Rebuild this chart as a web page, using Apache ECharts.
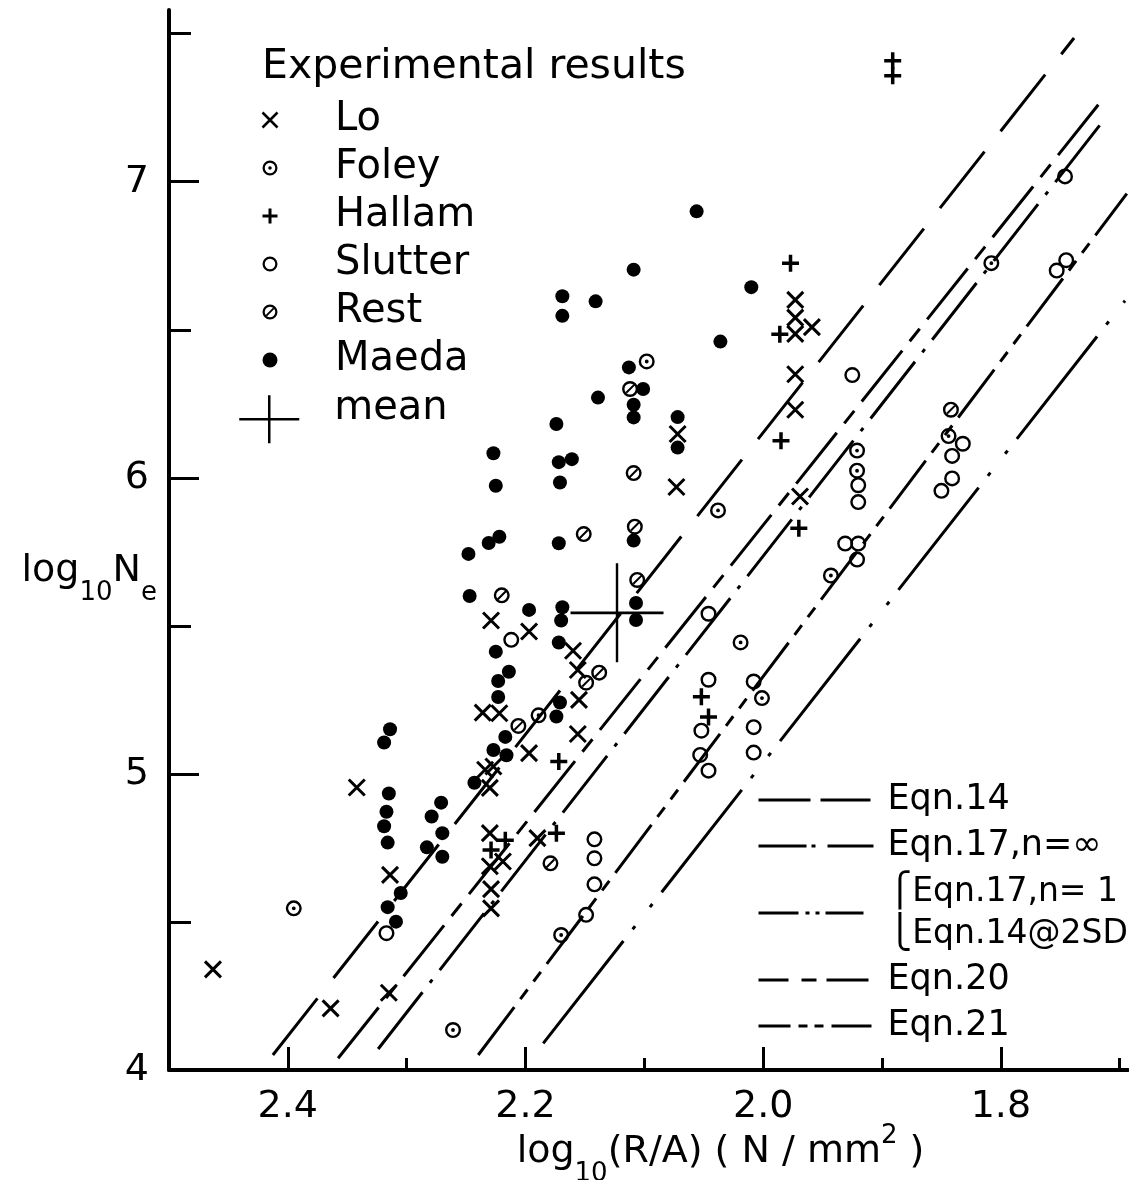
<!DOCTYPE html>
<html><head><meta charset="utf-8">
<script src="https://cdn.jsdelivr.net/npm/echarts@6/dist/echarts.min.js"></script>
<style>html,body{margin:0;padding:0;background:#fff}#c{width:1129px;height:1180px}</style>
</head><body><div id="c"></div>
<script>
// ---------- axis ticks ----------
const xTickLabels = [1.8, 2.0, 2.2, 2.4];
const xMinorTicks = [1.7, 1.9, 2.1, 2.3, 2.5];
const yTickLabels = [4, 5, 6, 7];
const yMinorTicks = [4.5, 5.5, 6.5, 7.5];

// ---------- experimental results [log10(R/A), log10 Ne] ----------
const lo = [[2.463,4.340],[2.364,4.208],[2.342,4.954],[2.314,4.659],[2.315,4.261],[2.236,5.207],[2.222,5.205],[2.229,5.518],[2.197,5.481],[2.234,5.014],[2.227,5.025],[2.230,4.953],[2.230,4.800],[2.219,4.704],[2.230,4.688],[2.229,4.611],[2.229,4.546],[2.197,5.070],[2.190,4.783],[2.160,5.416],[2.156,5.351],[2.155,5.250],[2.156,5.135],[2.072,6.148],[2.073,5.969],[1.973,6.601],[1.973,6.541],[1.959,6.509],[1.973,6.486],[1.973,6.350],[1.973,6.230],[1.969,5.937]];
const foley = [[2.395,4.546],[2.261,4.135],[2.189,5.198],[2.170,4.456],[2.098,6.393],[2.038,5.890],[2.019,5.444],[2.001,5.256],[1.943,5.670],[1.921,6.092],[1.921,6.024],[1.808,6.725],[1.844,6.141]];
const hallam = [[1.891,7.409],[1.891,7.358],[1.977,6.725],[1.986,6.485],[1.985,6.125],[1.970,5.830],[2.172,5.042],[2.217,4.776],[2.229,4.743],[2.174,4.800],[2.052,5.261],[2.046,5.192]];
const slutter = [[2.317,4.462],[2.212,5.453],[2.142,4.779],[2.142,4.715],[2.142,4.627],[2.149,4.524],[2.046,5.541],[2.046,5.318],[2.052,5.146],[2.053,5.064],[2.046,5.011],[2.008,5.312],[2.008,5.158],[2.008,5.072],[1.925,6.347],[1.920,5.975],[1.920,5.918],[1.931,5.778],[1.920,5.778],[1.921,5.724],[1.832,6.115],[1.841,6.074],[1.841,5.998],[1.850,5.956],[1.746,7.018],[1.753,6.700],[1.745,6.735]];
const rest = [[2.220,5.603],[2.206,5.162],[2.151,5.810],[2.112,6.300],[2.109,6.016],[2.108,5.835],[2.106,5.655],[2.149,5.308],[2.138,5.342],[2.179,4.698],[1.842,6.230]];
const maeda = [[2.227,6.083],[2.225,5.973],[2.222,5.801],[2.231,5.780],[2.248,5.743],[2.247,5.601],[2.056,6.900],[2.109,6.703],[2.169,6.613],[2.169,6.547],[2.141,6.596],[2.010,6.644],[2.036,6.460],[2.113,6.373],[2.101,6.300],[2.109,6.247],[2.109,6.204],[2.139,6.271],[2.174,6.182],[2.172,6.053],[2.161,6.063],[2.171,5.984],[2.072,6.205],[2.072,6.102],[2.172,5.779],[2.109,5.788],[2.107,5.577],[2.197,5.554],[2.169,5.563],[2.170,5.518],[2.172,5.444],[2.107,5.520],[2.225,5.413],[2.214,5.345],[2.223,5.314],[2.223,5.260],[2.171,5.241],[2.174,5.194],[2.217,5.125],[2.227,5.081],[2.216,5.063],[2.243,4.970],[2.314,5.151],[2.319,5.106],[2.315,4.934],[2.317,4.872],[2.319,4.823],[2.316,4.768],[2.305,4.598],[2.316,4.550],[2.309,4.501],[2.271,4.903],[2.279,4.856],[2.270,4.800],[2.283,4.752],[2.270,4.720]];
const meanPoint = [[2.123,5.544]];

// ---------- equation lines (end points) ----------
const eqn14 = [[2.4126,4.0507],[1.7384,7.4855]];
const eqn17inf = [[2.324,4.071],[1.7109,7.221]];
const eqn17n1 = [[2.1851,4.090],[1.6955,6.598]];
const eqn20 = [[2.3577,4.0395],[1.718,7.26]];
const eqn21 = [[2.2398,4.0507],[1.694,6.960]];

const lineLabels = {
  'Eqn.14': 'Eqn.14',
  'Eqn.17inf': 'Eqn.17,n=\u221E',
  'Eqn.17n1': '\u23A7Eqn.17,n= 1\n\u23A9Eqn.14@2SD',
  'Eqn.20': 'Eqn.20',
  'Eqn.21': 'Eqn.21'
};

const F = "'DejaVu Sans', 'Liberation Sans', sans-serif";
const K = '#000';

const P_X = 'path://M0,0L10,10M10,0L0,10';
const P_PLUS = 'path://M5,0L5,10M0,5L10,5';
const RING = 'M10,0A10,10 0 1,1 10,20A10,10 0 1,1 10,0ZM10,3A7,7 0 1,0 10,17A7,7 0 1,0 10,3Z';
const P_RING = 'path://' + RING;
const P_FOLEY = 'path://' + RING + 'M10,7.6A2.4,2.4 0 1,1 10,12.4A2.4,2.4 0 1,1 10,7.6Z';
const P_REST = 'path://' + RING + 'M4.3,13.9L13.9,4.3L15.7,6.1L6.1,15.7Z';
const P_MEAN = 'path://M0,50L100,50M50,0L50,100';
const P_MEAN_LEG = 'path://M30,0L30,0M0,46L60,46M30,22L30,70';

const strokeStyle = w => ({color: K, borderColor: K, borderWidth: w, opacity: 1});
const fillStyle = {color: K, borderWidth: 0, opacity: 1};

function scatter(name, data, symbol, size, style) {
  return {type: 'scatter', name, data, symbol, symbolSize: size, itemStyle: style,
          emphasis: {disabled: true}, silent: true, z: 3};
}
function eqLine(name, data, dash) {
  return {type: 'line', name, data, symbol: 'none', showSymbol: false, clip: false,
          lineStyle: {color: K, width: 3, type: dash, opacity: 1}, itemStyle: {color: K},
          emphasis: {disabled: true}, silent: true, z: 2};
}

const chart = echarts.init(document.getElementById('c'), null, {renderer: 'canvas'});
chart.setOption({
  animation: false,
  backgroundColor: '#fff',
  title: {
    text: 'Experimental results', left: 262, top: 47, padding: 0,
    textStyle: {fontFamily: F, fontSize: 41, fontWeight: 'normal', color: K}
  },
  grid: {left: 169, right: 1, top: 10, bottom: 110, containLabel: false, outerBoundsMode: 'none'},
  xAxis: [{
    type: 'value', min: 1.693, max: 2.5, inverse: true, position: 'bottom',
    axisLine: {show: true, onZero: false, lineStyle: {color: K, width: 4}},
    axisTick: {show: true, inside: true, length: 23, lineStyle: {color: K, width: 3}, customValues: xTickLabels},
    axisLabel: {show: true, margin: 18, fontFamily: F, fontSize: 38, color: K, customValues: xTickLabels,
      formatter: v => Number(v).toFixed(1)},
    splitLine: {show: false},
    name: '{m|log}{s|10}{m|(R/A) ( N / mm}{u|2}{m| )}',
    nameLocation: 'middle', nameGap: 53, nameMoveOverlap: false,
    nameTextStyle: {padding: [0, 0, 0, 144], rich: {
      m: {fontFamily: F, fontSize: 38, color: K, verticalAlign: 'top', padding: [10, 0, 0, 0]},
      s: {fontFamily: F, fontSize: 26, color: K, verticalAlign: 'top', padding: [38, 0, 0, 0]},
      u: {fontFamily: F, fontSize: 26, color: K, verticalAlign: 'top', padding: [0, 0, 0, 0]}
    }}
  }, {
    type: 'value', min: 1.693, max: 2.5, inverse: true, position: 'bottom',
    axisLine: {show: false},
    axisTick: {show: true, inside: true, length: 12, lineStyle: {color: K, width: 3}, customValues: xMinorTicks},
    axisLabel: {show: false}, splitLine: {show: false}
  }],
  yAxis: [{
    type: 'value', min: 4, max: 7.58, position: 'left',
    axisLine: {show: true, onZero: false, lineStyle: {color: K, width: 4}},
    axisTick: {show: true, inside: true, length: 30, lineStyle: {color: K, width: 3}, customValues: yTickLabels},
    axisLabel: {show: true, margin: 20, fontFamily: F, fontSize: 38, color: K, customValues: yTickLabels,
      formatter: v => String(Math.round(v))},
    splitLine: {show: false},
    name: '{m|log}{s|10}{m|N}{s|e}',
    nameLocation: 'middle', nameRotate: 0, nameGap: 12, nameMoveOverlap: false,
    nameTextStyle: {padding: [78, 0, 0, 0], rich: {
      m: {fontFamily: F, fontSize: 38, color: K, verticalAlign: 'top'},
      s: {fontFamily: F, fontSize: 26, color: K, verticalAlign: 'top', padding: [28, 0, 0, 0]}
    }}
  }, {
    type: 'value', min: 4, max: 7.58, position: 'left',
    axisLine: {show: false},
    axisTick: {show: true, inside: true, length: 22, lineStyle: {color: K, width: 3}, customValues: yMinorTicks},
    axisLabel: {show: false}, splitLine: {show: false}
  }],
  legend: [{
    orient: 'vertical', left: 261, top: 96, padding: 0, itemWidth: 120, itemHeight: 15, itemGap: 0,
    symbolKeepAspect: true, selectedMode: false,
    textStyle: {fontFamily: F, fontSize: 40, color: K, lineHeight: 48},
    data: [
      {name: 'Lo', icon: P_X, itemStyle: strokeStyle(2.5)},
      {name: 'Foley', icon: P_FOLEY, itemStyle: fillStyle},
      {name: 'Hallam', icon: P_PLUS, itemStyle: strokeStyle(3)},
      {name: 'Slutter', icon: P_RING, itemStyle: fillStyle},
      {name: 'Rest', icon: P_REST, itemStyle: fillStyle},
      {name: 'Maeda', icon: 'circle', itemStyle: fillStyle}
    ]
  }, {
    orient: 'vertical', left: 238, top: 372, padding: 0, itemWidth: 120, itemHeight: 70, itemGap: 0,
    symbolKeepAspect: true, selectedMode: false,
    textStyle: {fontFamily: F, fontSize: 40, color: K, lineHeight: 48},
    data: [{name: 'mean', icon: P_MEAN_LEG, itemStyle: {color: 'rgba(0,0,0,0)', borderColor: K, borderWidth: 2.5, opacity: 1}}]
  }, {
    orient: 'vertical', left: 757, top: 779, padding: 0, itemWidth: 124, itemHeight: 14, itemGap: 4,
    selectedMode: false,
    textStyle: {fontFamily: F, fontSize: 35, color: K, lineHeight: 42},
    formatter: n => lineLabels[n],
    data: [
      {name: 'Eqn.14', lineStyle: {color: K, width: 3, type: [52, 10, 50, 100]}, itemStyle: {opacity: 0}},
      {name: 'Eqn.17inf', lineStyle: {color: K, width: 3, type: [48, 5, 4, 12, 46, 100]}, itemStyle: {opacity: 0}},
      {name: 'Eqn.17n1', lineStyle: {color: K, width: 3, type: [40, 7, 4, 6, 4, 6, 38, 100]}, itemStyle: {opacity: 0},
       textStyle: {fontSize: 33}},
      {name: 'Eqn.20', lineStyle: {color: K, width: 3, type: [30, 13, 15, 10, 42, 100]}, itemStyle: {opacity: 0}},
      {name: 'Eqn.21', lineStyle: {color: K, width: 3, type: [32, 8, 9, 7, 9, 8, 40, 100]}, itemStyle: {opacity: 0}}
    ]
  }],
  series: [
    eqLine('Eqn.14', eqn14, [72, 26]),
    eqLine('Eqn.17inf', eqn17inf, [72, 12, 4, 12]),
    eqLine('Eqn.17n1', eqn17n1, [130, 15, 4, 24, 4, 15]),
    eqLine('Eqn.20', eqn20, [65, 12, 16, 12]),
    eqLine('Eqn.21', eqn21, [60, 10, 12, 10, 12, 10]),
    scatter('Lo', lo, P_X, 16, strokeStyle(3)),
    scatter('Foley', foley, P_FOLEY, 16, fillStyle),
    scatter('Hallam', hallam, P_PLUS, 17, strokeStyle(3.5)),
    scatter('Slutter', slutter, P_RING, 16, fillStyle),
    scatter('Rest', rest, P_REST, 16, fillStyle),
    scatter('Maeda', maeda, 'circle', 14, fillStyle),
    {type: 'scatter', name: 'mean', data: meanPoint, symbol: P_MEAN, symbolSize: [93, 99],
     symbolKeepAspect: false, itemStyle: {color: 'rgba(0,0,0,0)', borderColor: K, borderWidth: 2.5, opacity: 1},
     emphasis: {disabled: true}, silent: true, z: 4}
  ]
});
</script>
</body></html>
